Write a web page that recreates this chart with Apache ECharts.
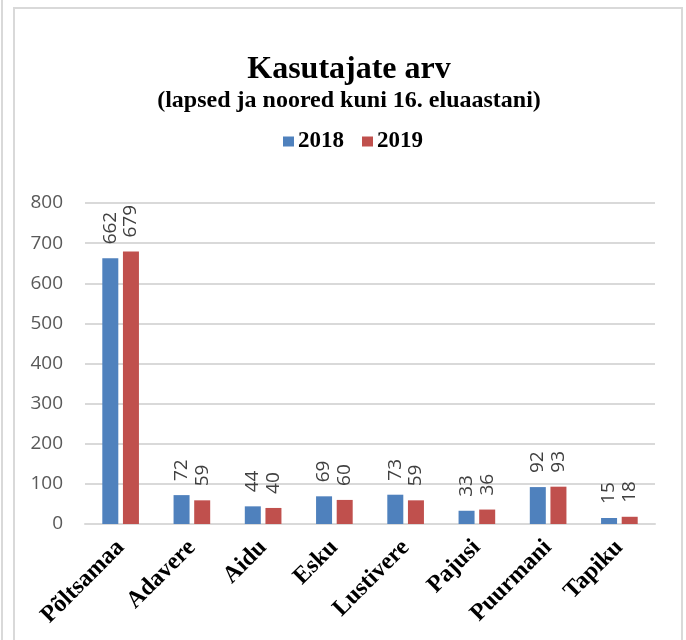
<!DOCTYPE html>
<html>
<head>
<meta charset="utf-8">
<script src="https://cdn.jsdelivr.net/npm/echarts@6/dist/echarts.min.js"></script>
<style>
  html, body { margin: 0; padding: 0; background: #fff; }
  #chart { width: 686px; height: 640px; }
</style>
</head>
<body>
<div id="chart"></div>
<script>
// values
const categories = ['Põltsamaa', 'Adavere', 'Aidu', 'Esku', 'Lustivere', 'Pajusi', 'Puurmani', 'Tapiku']
const values2018 = [662, 72, 44, 69, 73, 33, 92, 15]
const values2019 = [679, 59, 40, 60, 59, 36, 93, 18]
const yTicks = [0, 100, 200, 300, 400, 500, 600, 700, 800]

const serif = '"Liberation Serif", "DejaVu Serif", serif'
const sans = '"Open Sans", "Noto Sans", sans-serif'

const chart = echarts.init(document.getElementById('chart'))

const barLabel = {
  show: true,
  position: 'top',
  rotate: 90,
  align: 'left',
  verticalAlign: 'middle',
  distance: 14,
  color: '#404040',
  fontFamily: sans,
  fontSize: 19
}

chart.setOption({
  animation: false,
  backgroundColor: '#fff',
  graphic: [
    {type: 'line', shape: {x1: 2, y1: 0, x2: 2, y2: 640}, style: {stroke: '#d9d9d9', lineWidth: 2}},
    {type: 'rect', shape: {x: 14, y: 8, width: 668, height: 660}, style: {fill: 'none', stroke: '#d9d9d9', lineWidth: 2}}
  ],
  title: {
    text: 'Kasutajate arv',
    subtext: '(lapsed ja noored kuni 16. eluaastani)',
    left: 344,
    textAlign: 'center',
    top: 49,
    itemGap: 3,
    textStyle: {fontFamily: serif, fontWeight: 'bold', fontSize: 32, color: '#000'},
    subtextStyle: {fontFamily: serif, fontWeight: 'bold', fontSize: 24, color: '#000'}
  },
  legend: {
    data: ['2018', '2019'],
    left: 278,
    top: 125,
    icon: 'rect',
    itemWidth: 11,
    itemHeight: 10,
    itemGap: 18,
    textStyle: {fontFamily: serif, fontWeight: 'bold', fontSize: 23, color: '#000', padding: [0, 0, 0, -1]}
  },
  grid: {left: 85, right: 31, top: 203, bottom: 116},
  xAxis: {
    type: 'category',
    data: categories,
    axisLine: {lineStyle: {color: '#d9d9d9', width: 2}},
    axisTick: {show: false},
    axisLabel: {
      rotate: 45,
      margin: 20,
      interval: 0,
      fontFamily: serif,
      fontWeight: 'bold',
      fontSize: 24,
      color: '#000'
    }
  },
  yAxis: {
    type: 'value',
    min: yTicks[0],
    max: yTicks[yTicks.length - 1],
    interval: 100,
    axisLine: {show: false},
    axisTick: {show: false},
    splitLine: {lineStyle: {color: '#d9d9d9', width: 2}},
    axisLabel: {margin: 22, fontFamily: sans, fontSize: 19, color: '#595959'}
  },
  series: [
    {
      name: '2018',
      type: 'bar',
      data: values2018,
      barWidth: 16,
      barGap: '29%',
      itemStyle: {color: '#4f81bd'},
      label: barLabel
    },
    {
      name: '2019',
      type: 'bar',
      data: values2019,
      barWidth: 16,
      itemStyle: {color: '#c0504d'},
      label: barLabel
    }
  ]
})
</script>
</body>
</html>
